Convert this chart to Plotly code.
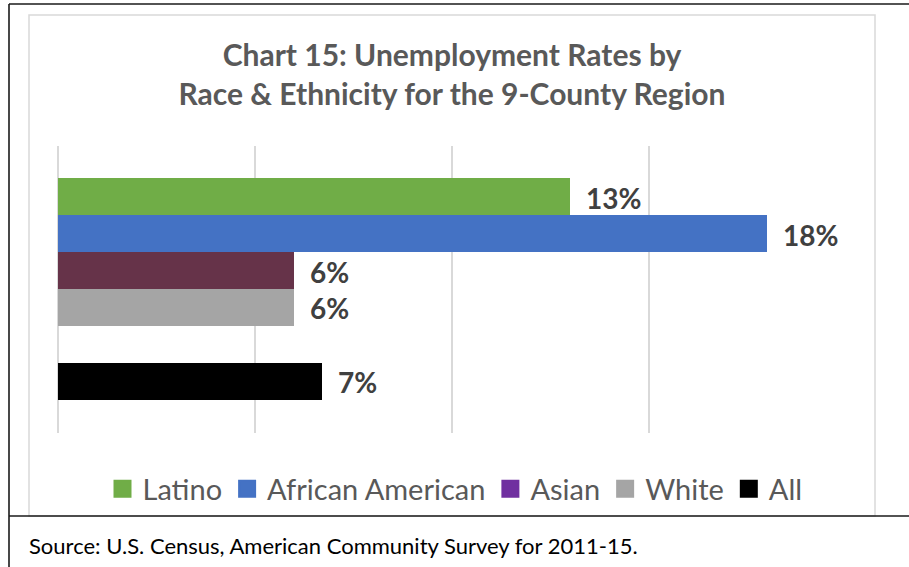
import plotly.graph_objects as go

categories = ["Latino", "African American", "Asian", "White", "All"]
values = [13, 18, 6, 6, 6.7]
bar_colors = ["#70AD47", "#4472C4", "#663349", "#A5A5A5", "#000000"]
legend_colors = ["#70AD47", "#4472C4", "#7030A0", "#A5A5A5", "#000000"]
title_lines = ["Chart 15: Unemployment Rates by", "Race & Ethnicity for the 9-County Region"]
source_text = "Source: U.S. Census, American Community Survey for 2011-15."

W, H = 909, 567
L, R, T, B = 58, 846, 146, 433  # plot area in pixels
FONT = "Lato"

# slot positions: four groups, a gap, then "All"
positions = [0, 1, 2, 3, 5]

fig = go.Figure()
for cat, val, pos, bc in zip(categories, values, positions, bar_colors):
    fig.add_trace(go.Bar(x=[val], y=[pos], orientation="h", width=1.0,
                         marker=dict(color=bc, line=dict(width=0)),
                         name=cat, showlegend=False, hoverinfo="x+name"))
for cat, lc in zip(categories, legend_colors):
    fig.add_trace(go.Scatter(x=[None], y=[None], mode="markers", name=cat,
                             marker=dict(symbol="square", size=16, color=lc,
                                         line=dict(color=lc, width=2)),
                             showlegend=True))

for val, pos in zip(values, positions):
    fig.add_annotation(x=val, y=pos, xref="x", yref="y", text=f"<b>{round(val)}%</b>",
                       showarrow=False, xanchor="left", yanchor="middle", xshift=14, yshift=-1,
                       font=dict(family=FONT, size=28, color="#404040"))

def px_x(p):
    return (p - L) / (R - L)

def px_y(p):
    return (B - p) / (B - T)

line_dark = dict(color="#1a1a1a", width=1.6)
line_gray = dict(color="#D9D9D9", width=1.5)
shapes = [
    dict(type="rect", xref="paper", yref="paper", x0=px_x(29), x1=px_x(875), y0=px_y(516), y1=px_y(15), line=line_gray, layer="below"),
    dict(type="line", xref="paper", yref="paper", x0=px_x(9), x1=px_x(909), y0=px_y(4), y1=px_y(4), line=line_dark),
    dict(type="line", xref="paper", yref="paper", x0=px_x(9), x1=px_x(9), y0=px_y(4), y1=px_y(567), line=line_dark),
    dict(type="line", xref="paper", yref="paper", x0=px_x(9), x1=px_x(909), y0=px_y(516), y1=px_y(516), line=line_dark),
]

fig.add_annotation(xref="paper", yref="paper", x=px_x(27), y=px_y(545), xanchor="left", yanchor="middle",
                   text=source_text, showarrow=False, font=dict(family=FONT, size=22, color="#000000"))

fig.update_layout(
    width=W, height=H,
    margin=dict(l=L, r=W - R, t=T, b=H - B, pad=0),
    paper_bgcolor="white", plot_bgcolor="white",
    title=dict(text="<br>".join(title_lines), x=452 / W, xref="container", xanchor="center",
               y=1 - 66 / H, yref="container", yanchor="middle",
               font=dict(family=FONT, size=30, color="#595959", weight="bold")),
    xaxis=dict(range=[0, 20], dtick=5, tick0=0, showticklabels=False, showgrid=True,
               gridcolor="#D9D9D9", gridwidth=1.5, zeroline=True, zerolinecolor="#D9D9D9",
               zerolinewidth=1.5, showline=False, ticks="", fixedrange=True),
    yaxis=dict(range=[6.405, -1.378], showticklabels=False, showgrid=False, zeroline=False,
               showline=False, ticks="", fixedrange=True),
    legend=dict(orientation="h", x=px_x(455), y=px_y(489), xanchor="center", yanchor="middle",
                font=dict(family=FONT, size=29, color="#595959"), itemclick=False,
                bgcolor="rgba(0,0,0,0)", tracegroupgap=0),
    shapes=shapes,
    bargap=0, showlegend=True,
)

fig.write_html("out.html", config={"displayModeBar": False},
               post_script="document.body.style.margin='0';document.body.style.overflow='hidden';")
